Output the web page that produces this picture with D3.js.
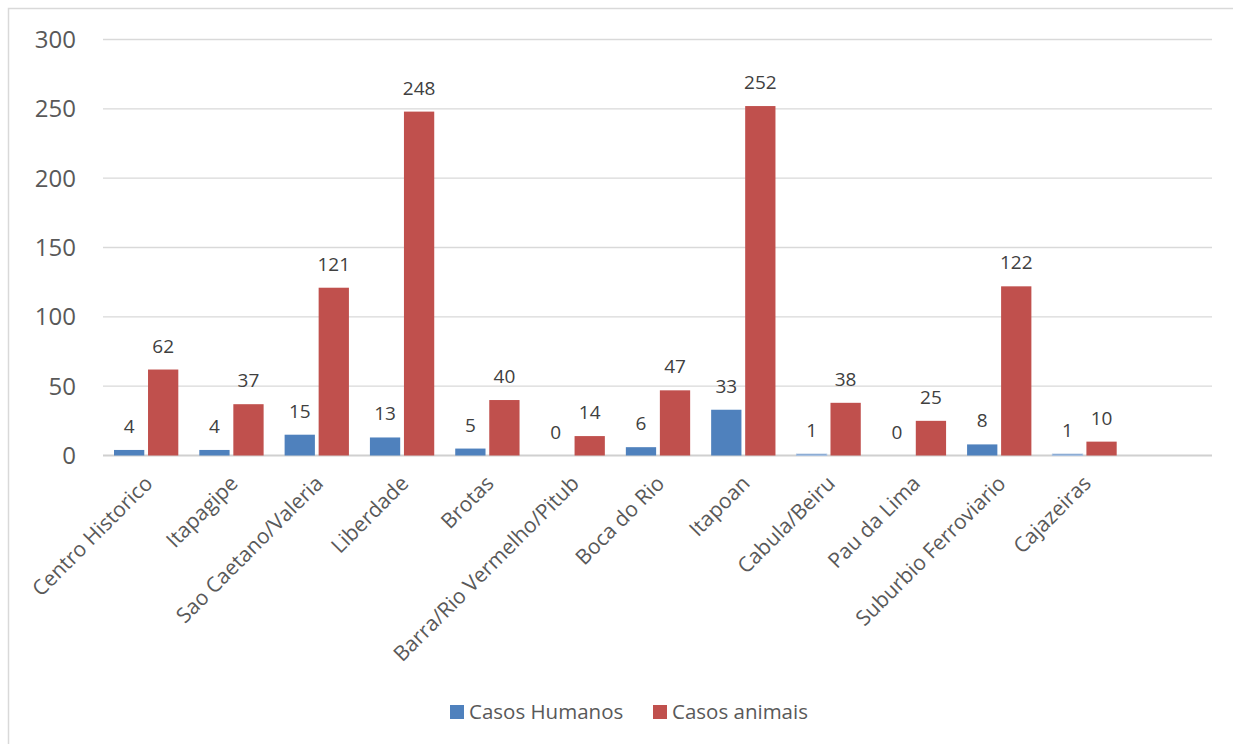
<!DOCTYPE html>
<html>
<head>
<meta charset="utf-8">
<script src="https://cdn.jsdelivr.net/npm/d3@7"></script>
<style>
  body { margin: 0; background: #fff; }
  svg { display: block; font-family: "Open Sans", "Noto Sans", sans-serif; }
</style>
</head>
<body>
<svg width="1233" height="744"></svg>
<script>
// categories (last slot is empty in the original sheet)
var categories = ["Centro Historico", "Itapagipe", "Sao Caetano/Valeria", "Liberdade", "Brotas",
    "Barra/Rio Vermelho/Pitub", "Boca do Rio", "Itapoan", "Cabula/Beiru", "Pau da Lima",
    "Suburbio Ferroviario", "Cajazeiras", ""];
var casosHumanos = [4, 4, 15, 13, 5, 0, 6, 33, 1, 0, 8, 1, null];
var casosAnimais = [62, 37, 121, 248, 40, 14, 47, 252, 38, 25, 122, 10, null];
var seriesNames = ["Casos Humanos", "Casos animais"];
var seriesColors = ["#4F81BD", "#C0504D"];
var yTicks = [0, 50, 100, 150, 200, 250, 300];

var svg = d3.select("svg");

// chart frame border
svg.append("rect")
    .attr("x", 8.5).attr("y", 8.5)
    .attr("width", 1240).attr("height", 760)
    .attr("fill", "none")
    .attr("stroke", "#d9d9d9")
    .attr("stroke-width", 1.5);

var plotLeft = 103, plotRight = 1212, plotTop = 39.5, plotBottom = 455.5;

var x = d3.scaleBand().domain(categories.map(function (d, i) { return i; }))
    .range([plotLeft, plotRight]).paddingInner(0).paddingOuter(0);

var inner = d3.scaleBand().domain([0, 1])
    .range([11, x.bandwidth() - 10]).paddingInner(0.11);

var y = d3.scaleLinear().domain([0, 300]).range([plotBottom, plotTop]);

// gridlines
svg.append("g").selectAll("line")
    .data(yTicks)
    .enter().append("line")
    .attr("x1", plotLeft).attr("x2", plotRight)
    .attr("y1", function (d) { return y(d); })
    .attr("y2", function (d) { return y(d); })
    .attr("stroke", function (d) { return d === 0 ? "#d0d0d0" : "#d9d9d9"; })
    .attr("stroke-width", function (d) { return d === 0 ? 2 : 1.3; });

// y labels
svg.append("g").selectAll("text")
    .data(yTicks)
    .enter().append("text")
    .attr("x", 76)
    .attr("y", function (d) { return y(d); })
    .attr("dy", "0.36em")
    .attr("text-anchor", "end")
    .attr("fill", "#595959")
    .style("font-size", "24px")
    .text(function (d) { return d; });

// bars
var series = [casosHumanos, casosAnimais];
series.forEach(function (vals, s) {
    var g = svg.append("g");
    vals.forEach(function (v, i) {
        if (v === null) return;
        var bx = x(i) + inner(s);
        g.append("rect")
            .attr("x", bx)
            .attr("y", y(v))
            .attr("width", inner.bandwidth())
            .attr("height", y(0) - y(v))
            .attr("fill", seriesColors[s])
            .attr("stroke", v === 1 ? "#a9c1e0" : "none");
        g.append("text")
            .attr("x", bx + inner.bandwidth() / 2)
            .attr("y", y(v) - 17)
            .attr("text-anchor", "middle")
            .attr("fill", "#404040")
            .style("font-size", "19px")
            .text(v);
    });
});

// category labels
svg.append("g").selectAll("text")
    .data(categories)
    .enter().append("text")
    .attr("transform", function (d, i) {
        return "translate(" + (x(i) + x.bandwidth() / 2 + 3) + "," + (plotBottom + 24) + ") rotate(-45)";
    })
    .attr("text-anchor", "end")
    .attr("dy", "0.35em")
    .attr("fill", "#595959")
    .style("font-size", "21px")
    .text(function (d) { return d; });

// legend
var legend = svg.append("g");
var legendX = [450, 653];
seriesNames.forEach(function (name, s) {
    legend.append("rect")
        .attr("x", legendX[s]).attr("y", 705)
        .attr("width", 14).attr("height", 14)
        .attr("fill", seriesColors[s]);
    legend.append("text")
        .attr("x", legendX[s] + 19)
        .attr("y", 712)
        .attr("dy", "0.35em")
        .attr("fill", "#595959")
        .style("font-size", "20.5px")
        .text(name);
});
</script>
</body>
</html>
